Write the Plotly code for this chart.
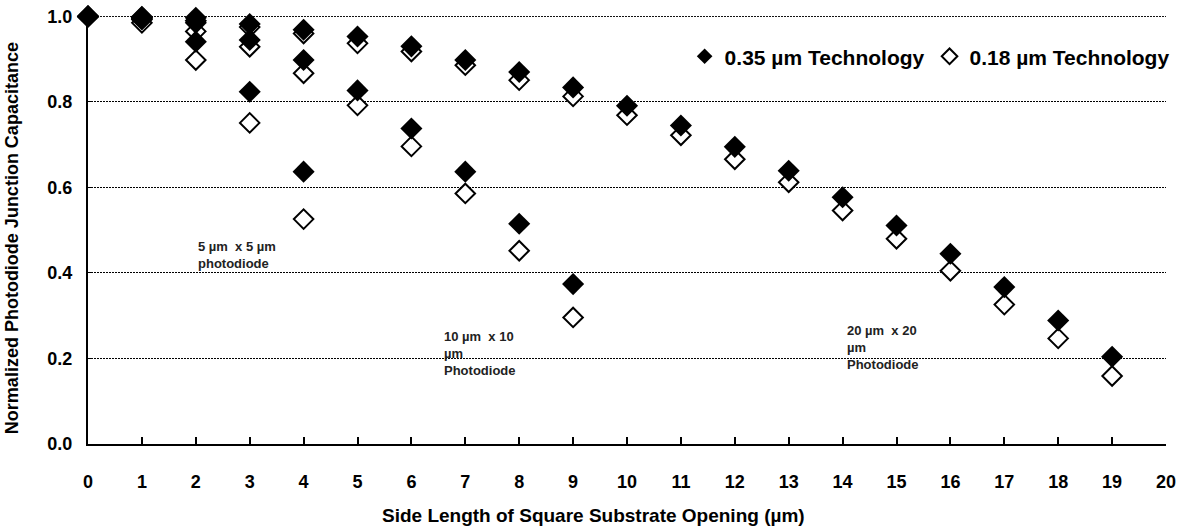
import plotly.graph_objects as go

# Side length of square substrate opening (µm)
x_5 = [0, 1, 2, 3, 4]
x_10 = [0, 1, 2, 3, 4, 5, 6, 7, 8, 9]
x_20 = list(range(0, 20))

# 0.35 µm technology (filled diamonds)
t035_5 = [1.0, 0.995, 0.941, 0.824, 0.637]
t035_10 = [1.0, 0.998, 0.985, 0.945, 0.898, 0.827, 0.738, 0.637, 0.515, 0.374]
t035_20 = [1.0, 0.999, 0.997, 0.982, 0.969, 0.953, 0.930, 0.898, 0.870, 0.834,
           0.791, 0.745, 0.695, 0.639, 0.577, 0.511, 0.445, 0.367, 0.289, 0.204]

# 0.18 µm technology (open diamonds)
t018_5 = [1.0, 0.985, 0.898, 0.751, 0.526]
t018_10 = [1.0, 0.993, 0.965, 0.929, 0.867, 0.792, 0.696, 0.586, 0.452, 0.296]
t018_20 = [1.0, 0.997, 0.990, 0.975, 0.960, 0.937, 0.918, 0.886, 0.851, 0.813,
           0.769, 0.722, 0.666, 0.612, 0.546, 0.480, 0.405, 0.326, 0.247, 0.159]

x_ticks = list(range(0, 21))
y_ticks = [0.0, 0.2, 0.4, 0.6, 0.8, 1.0]

FONT = "Liberation Sans, Arial, sans-serif"

fig = go.Figure()

open_marker = dict(symbol="diamond", size=15, color="white",
                   line=dict(color="black", width=2))
filled_marker = dict(symbol="diamond", size=17, color="black",
                     line=dict(color="black", width=0))

for i, (xs, ys) in enumerate([(x_5, t018_5), (x_10, t018_10), (x_20, t018_20)]):
    fig.add_trace(go.Scatter(x=xs, y=ys, mode="markers", marker=open_marker,
                             name="0.18 µm Technology", legendgroup="t018",
                             showlegend=(i == 0), legendrank=2, cliponaxis=False))
for i, (xs, ys) in enumerate([(x_5, t035_5), (x_10, t035_10), (x_20, t035_20)]):
    fig.add_trace(go.Scatter(x=xs, y=ys, mode="markers", marker=filled_marker,
                             name="0.35 µm Technology", legendgroup="t035",
                             showlegend=(i == 0), legendrank=1, cliponaxis=False))

ann_font = dict(family=FONT, size=13, color="#222222")
fig.add_annotation(x=2.0, y=0.483, xref="x", yref="y", xanchor="left", yanchor="top",
                   text="<b>5 µm  x 5 µm<br>photodiode</b>", showarrow=False,
                   align="left", font=ann_font)
fig.add_annotation(x=6.57, y=0.273, xref="x", yref="y", xanchor="left", yanchor="top",
                   text="<b>10 µm  x 10<br>µm<br>Photodiode</b>", showarrow=False,
                   align="left", font=ann_font)
fig.add_annotation(x=14.04, y=0.287, xref="x", yref="y", xanchor="left", yanchor="top",
                   text="<b>20 µm  x 20<br>µm<br>Photodiode</b>", showarrow=False,
                   align="left", font=ann_font)

# axis titles (centred as in the original layout)
fig.add_annotation(x=0.469, y=-0.166, xref="paper", yref="paper",
                   xanchor="center", yanchor="middle", showarrow=False,
                   text="<b>Side Length of Square Substrate Opening (µm)</b>",
                   font=dict(family=FONT, size=19, color="black"))
fig.add_annotation(x=-0.0705, y=0.481, xref="paper", yref="paper",
                   xanchor="center", yanchor="middle", showarrow=False, textangle=-90,
                   text="<b>Normalized Photodiode Junction Capacitance</b>",
                   font=dict(family=FONT, size=18, color="black"))

# dashed gridline along the top edge (value 1.0)
fig.add_shape(type="line", xref="paper", yref="y", x0=0, x1=1, y0=1.0, y1=1.0,
              line=dict(color="black", width=1, dash="2px,1px"), layer="below")

fig.update_layout(
    width=1187, height=530,
    margin=dict(l=88, r=21, t=16, b=86, autoexpand=False),
    paper_bgcolor="white", plot_bgcolor="white",
    font=dict(family=FONT, color="black"),
    legend=dict(orientation="h", x=1.008, xanchor="right", y=0.905, yanchor="middle",
                font=dict(family=FONT, size=21, color="black", weight="bold"),
                bgcolor="rgba(0,0,0,0)", itemwidth=30, itemsizing="constant",
                traceorder="normal"),
    showlegend=True,
)

fig.update_xaxes(
    range=[0, 20], tickvals=x_ticks, ticktext=[str(v) for v in x_ticks],
    showgrid=False, zeroline=False, automargin=False,
    showline=True, linecolor="black", linewidth=2,
    ticks="inside", ticklen=7, tickwidth=1.5, tickcolor="black",
    tickfont=dict(family=FONT, size=18, color="black", weight="bold"),
    ticklabelstandoff=20,
)
fig.update_yaxes(
    range=[0, 1.001], tickvals=y_ticks, ticktext=[f"{v:.1f}" for v in y_ticks],
    showgrid=True, gridcolor="black", gridwidth=1, griddash="2px,1px",
    zeroline=False, automargin=False,
    showline=True, linecolor="black", linewidth=2,
    ticks="inside", ticklen=5, tickwidth=1, tickcolor="black",
    tickfont=dict(family=FONT, size=18, color="black", weight="bold"),
    ticklabelstandoff=10,
)

fig.write_html("out.html")
